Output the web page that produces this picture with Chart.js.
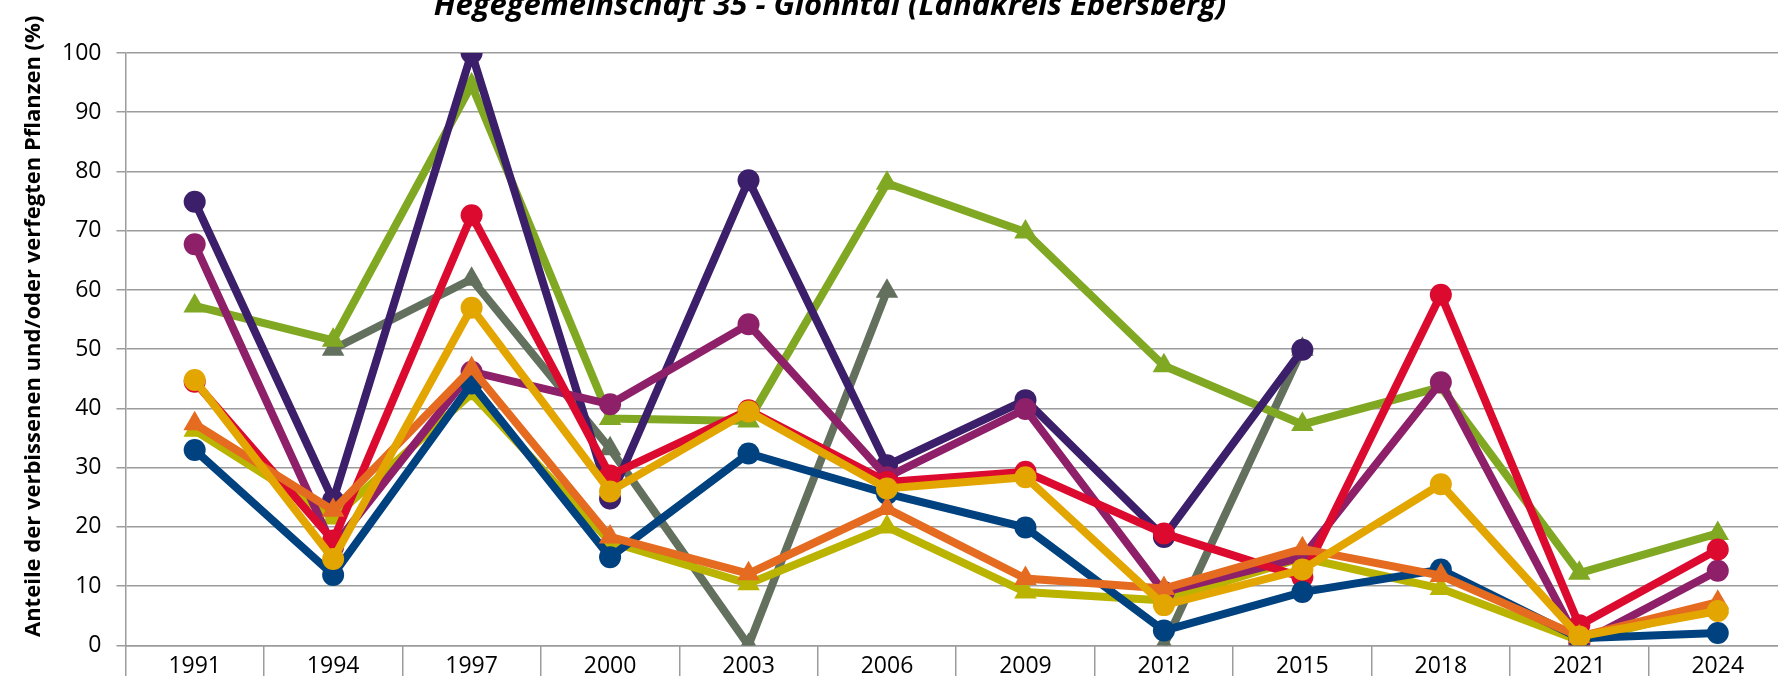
<!DOCTYPE html>
<html>
<head>
<meta charset="utf-8">
<script src="https://cdn.jsdelivr.net/npm/chart.js@4.4.1/dist/chart.umd.min.js"></script>
<style>
  html, body { margin: 0; padding: 0; background: #fff; overflow: hidden; }
  #wrap { position: absolute; left: 0; top: 0; width: 1778px; height: 676px; overflow: hidden; }
</style>
</head>
<body>
<div id="wrap"><canvas id="grafico" width="1800" height="700"></canvas></div>
<script>
// Jahre der Aufnahme
var jahre = ['1991', '1994', '1997', '2000', '2003', '2006', '2009', '2012', '2015', '2018', '2021', '2024'];
var yTicks = [0, 10, 20, 30, 40, 50, 60, 70, 80, 90, 100];

// Werte je Baumart, Reihenfolge = Zeichenreihenfolge von oben nach unten
var gelbWerte    = [44.8, 14.6, 57.0, 26.0, 39.5, 26.5, 28.4, 6.8, 12.8, 27.2, 1.5, 5.8];
var orangeWerte  = [37.4, 22.8, 46.7, 18.3, 12.1, 23.1, 11.3, 9.6, 16.3, 11.8, 1.5, 7.3];
var blauWerte    = [33.0, 11.9, 44.2, 14.9, 32.4, 25.6, 19.9, 2.5, 9.0, 12.8, 1.2, 2.1];
var rotWerte     = [44.5, 17.7, 72.6, 28.7, 39.7, 27.6, 29.3, 18.9, 11.5, 59.2, 3.4, 16.2];
var pflaumeWerte = [67.7, 16.6, 46.2, 40.7, 54.2, 28.4, 39.9, 9.0, 14.9, 44.4, 0.3, 12.6];
var violettWerte = [74.9, 24.5, 100, 24.8, 78.5, 30.4, 41.4, 18.3, 49.9, null, null, null];
var olivWerte    = [36.3, 21.5, 42.5, 17.5, 10.4, 20.0, 9.0, 7.6, 14.8, 9.6, 0.8, 6.5];
var gruenWerte   = [57.3, 51.5, 94.6, 38.3, 37.9, 78.0, 69.8, 47.2, 37.3, 43.6, 12.2, 18.9];
var grauWerte    = [null, 50.0, 61.8, 33.2, 0, 59.8, null, 0, 50.0, null, null, null];

var titel = 'Hegegemeinschaft 35 - Glonntal (Landkreis Ebersberg)';
// führende Leerzeichen schieben den Achsentitel etwas nach oben wie im Original
var achsenTitel = '\u00a0\u00a0\u00a0\u00a0\u00a0\u00a0\u00a0\u00a0Anteile der verbissenen und/oder verfegten Pflanzen (%)';

function reihe(werte, farbe, form) {
    return {
        data: werte,
        borderColor: farbe,
        backgroundColor: farbe,
        borderWidth: 8,
        pointStyle: form,
        pointRadius: form === 'triangle' ? 13 : 11,
        pointBorderWidth: 0,
        pointBackgroundColor: farbe,
        tension: 0,
        spanGaps: false,
        fill: false
    };
}

var titelPlugin = {
    id: 'titel',
    afterDraw: function (chart) {
        var ctx = chart.ctx;
        ctx.save();
        ctx.font = 'italic bold 31px "Open Sans"';
        ctx.fillStyle = '#000';
        ctx.textAlign = 'center';
        ctx.textBaseline = 'alphabetic';
        ctx.fillText(titel, 830, 15);
        ctx.restore();
    }
};

var gitter = '#9c9c9c';
var ctx = document.getElementById('grafico').getContext('2d');
var chart = new Chart(ctx, {
    type: 'line',
    data: {
        labels: jahre,
        datasets: [
            reihe(gelbWerte, '#e3a500', 'circle'),
            reihe(orangeWerte, '#e46b1f', 'triangle'),
            reihe(blauWerte, '#00427f', 'circle'),
            reihe(rotWerte, '#dc0a2e', 'circle'),
            reihe(pflaumeWerte, '#8e1f69', 'circle'),
            reihe(violettWerte, '#3c1f6a', 'circle'),
            reihe(olivWerte, '#bab300', 'triangle'),
            reihe(gruenWerte, '#80a823', 'triangle'),
            reihe(grauWerte, '#64705e', 'triangle')
        ]
    },
    options: {
        responsive: false,
        animation: false,
        devicePixelRatio: 1,
        layout: { padding: { top: 53, right: 11, bottom: 13, left: 0 } },
        plugins: {
            legend: { display: false },
            tooltip: { enabled: false }
        },
        scales: {
            x: {
                offset: true,
                grid: { display: false, drawTicks: false },
                border: { display: true, color: gitter, width: 1.5 },
                ticks: {
                    color: '#000',
                    padding: 7,
                    maxRotation: 0,
                    autoSkip: false,
                    font: { family: '"Open Sans"', size: 23 }
                }
            },
            // nur für die langen Teilstriche unter der Achse
            xStriche: {
                type: 'category',
                position: { y: 0 },
                offset: true,
                grid: {
                    display: true,
                    offset: true,
                    drawOnChartArea: false,
                    drawTicks: true,
                    tickLength: 45,
                    color: gitter,
                    lineWidth: 1.5
                },
                border: { display: false },
                ticks: { display: false }
            },
            y: {
                min: 0,
                max: 100,
                afterBuildTicks: function (axis) {
                    axis.ticks = yTicks.map(function (v) { return { value: v }; });
                },
                grid: {
                    color: gitter,
                    lineWidth: 1.5,
                    drawTicks: true,
                    tickLength: 9
                },
                border: { display: true, color: gitter, width: 1.5 },
                ticks: {
                    color: '#000',
                    padding: 15,
                    font: { family: '"Open Sans"', size: 23 }
                },
                title: {
                    display: true,
                    text: achsenTitel,
                    color: '#000',
                    padding: { top: 23, bottom: 2 },
                    font: { family: '"Open Sans"', size: 22, weight: 'bold', lineHeight: 1 }
                }
            }
        }
    },
    plugins: [titelPlugin]
});
</script>
</body>
</html>
